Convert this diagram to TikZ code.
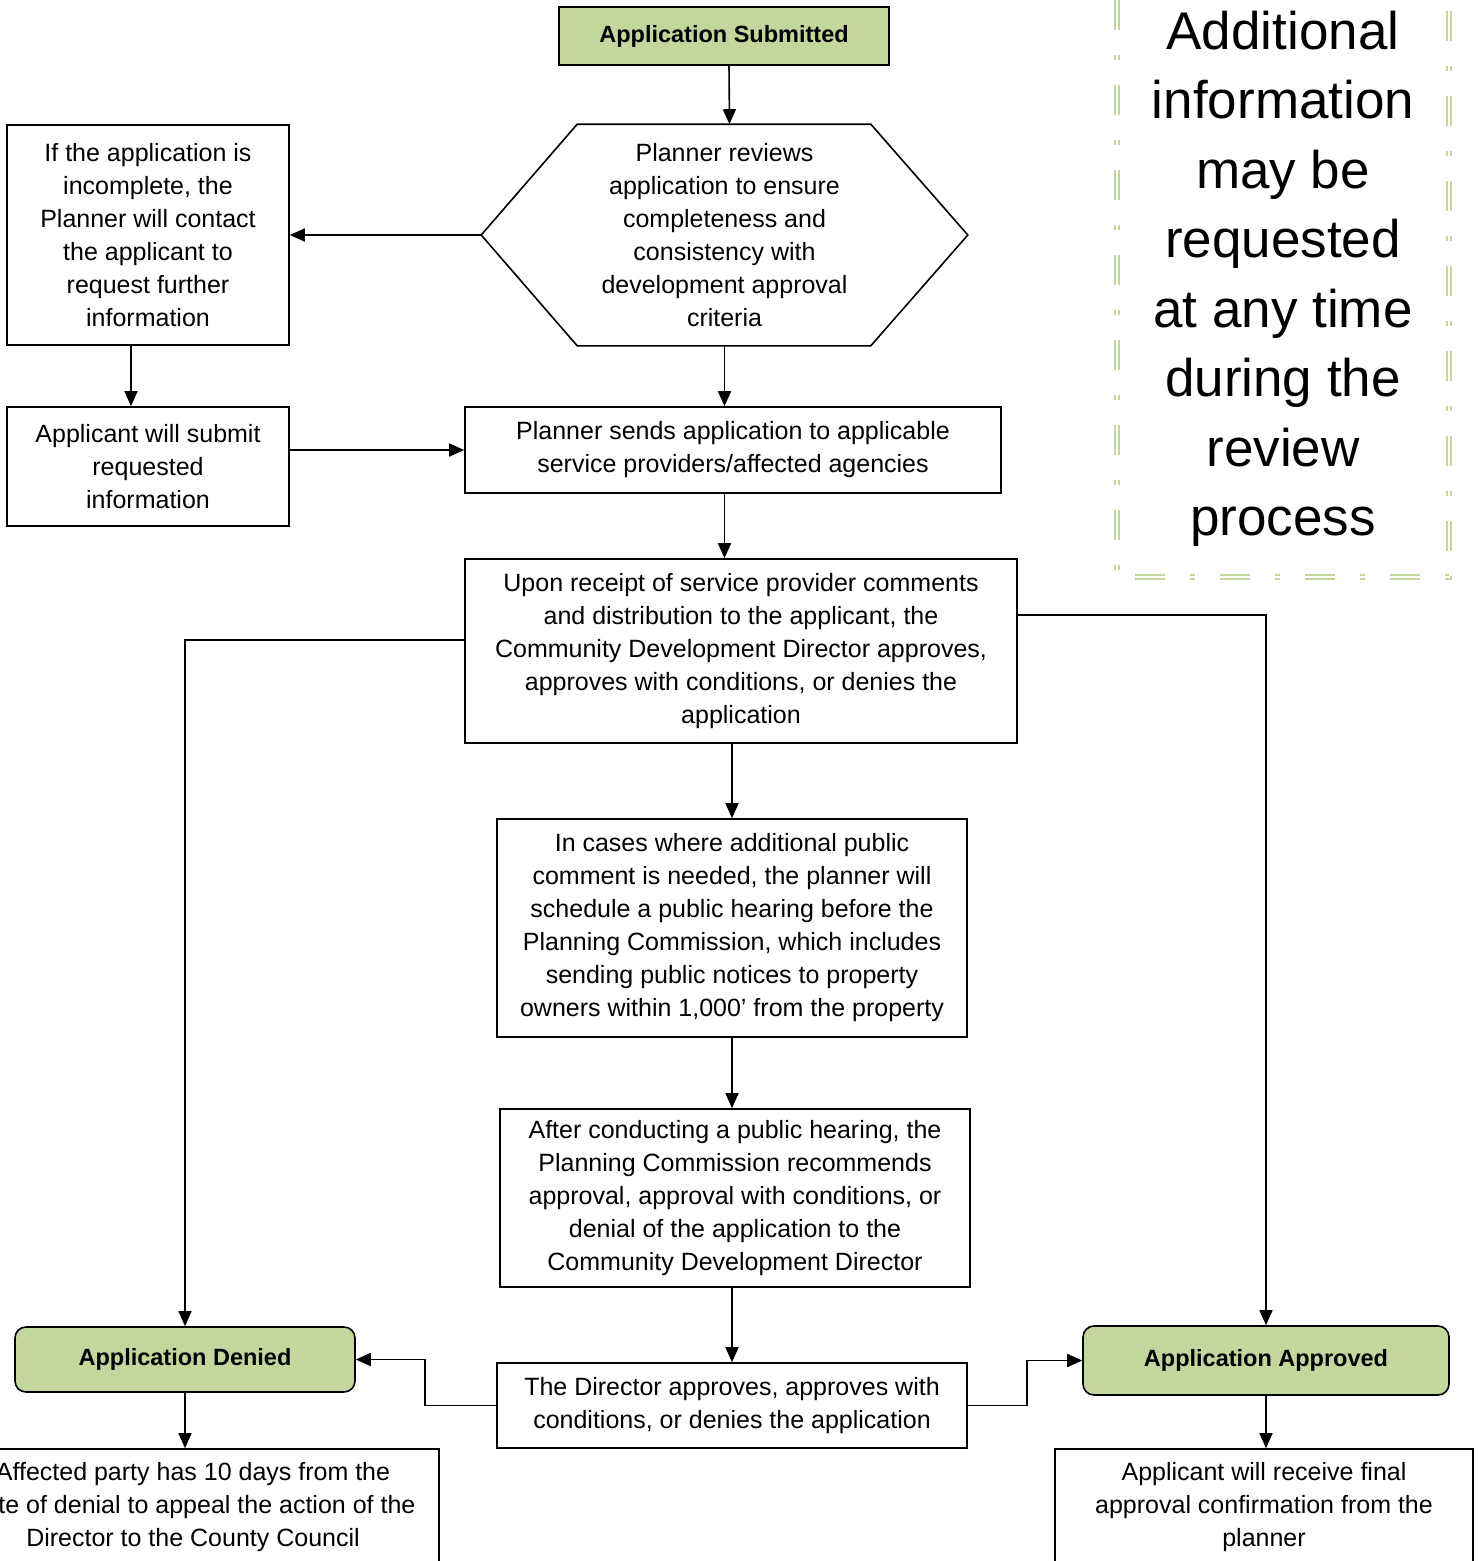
\documentclass[tikz,border=0pt]{standalone}
\usepackage{fontspec}
\setmainfont{Liberation Sans}
\usetikzlibrary{arrows.meta, positioning, calc}
\definecolor{appgreen}{HTML}{C3D69B}
\tikzstyle{process} = [draw, rectangle, line width=1.6pt, align=center, inner sep=0pt,
  font=\fontsize{25}{33}\selectfont]
\tikzstyle{outcome} = [process, fill=appgreen, font=\bfseries\fontsize{23.5}{28}\selectfont]
\tikzstyle{line} = [draw, line width=1.6pt, ->]

\begin{document}
\begin{tikzpicture}[x=1pt, y=-1pt,
          > = {Triangle[length=15pt, width=13pt]} % arrow head style
      ]
  \useasboundingbox (0,0) rectangle (1478,1561);

  % Draw the vertices.
  \node[outcome, minimum width=330pt, minimum height=58pt] (submitted) at (724,36) {Application Submitted};

  \node[process, draw=none, minimum width=485pt, minimum height=220pt] (review) at (724.5,235)
    {Planner reviews\\application to ensure\\completeness and\\consistency with\\development approval\\criteria};
  \draw[line width=1.6pt] (review.west) -- ($(review.north west)+(96,0)$) -- ($(review.north east)+(-97,0)$)
    -- (review.east) -- ($(review.south east)+(-97,0)$) -- ($(review.south west)+(96,0)$) -- cycle;

  \node[process, minimum width=282pt, minimum height=220pt] (incomplete) at (148,235)
    {If the application is\\incomplete, the\\Planner will contact\\the applicant to\\request further\\information};
  \node[process, minimum width=282pt, minimum height=119pt] (submit) at (148,466.5)
    {Applicant will submit\\requested\\information};
  \node[process, minimum width=536pt, minimum height=86pt] (sends) at (733,450)
    {Planner sends application to applicable\\service providers/affected agencies};
  \node[process, minimum width=552pt, minimum height=184pt] (upon) at (741,651)
    {Upon receipt of service provider comments\\and distribution to the applicant, the\\Community Development Director approves,\\approves with conditions, or denies the\\application};
  \node[process, minimum width=470pt, minimum height=218pt] (cases) at (732,928)
    {In cases where additional public\\comment is needed, the planner will\\schedule a public hearing before the\\Planning Commission, which includes\\sending public notices to property\\owners within 1,000’ from the property};
  \node[process, minimum width=470pt, minimum height=178pt] (after) at (735,1198)
    {After conducting a public hearing, the\\Planning Commission recommends\\approval, approval with conditions, or\\denial of the application to the\\Community Development Director};
  \node[process, minimum width=470pt, minimum height=85pt] (director) at (732,1405.5)
    {The Director approves, approves with\\conditions, or denies the application};

  \node[outcome, rounded corners=11pt, minimum width=340pt, minimum height=65pt] (denied) at (185,1359.5) {Application Denied};
  \node[outcome, rounded corners=11pt, minimum width=366pt, minimum height=69pt] (approved) at (1266,1360.5) {Application Approved};

  \node[process, minimum width=492pt, minimum height=116pt] (appeal) at (193,1507)
    {Affected party has 10 days from the\\date of denial to appeal the action of the\\Director to the County Council};
  \node[process, minimum width=418pt, minimum height=116pt] (final) at (1264,1507)
    {Applicant will receive final\\approval confirmation from the\\planner};

  % side note
  \node[align=center, font=\fontsize{53}{69.5}\selectfont] (note) at (1283,279)
    {Additional\\information\\may be\\requested\\at any time\\during the\\review\\process};
  \draw[appgreen, line width=1.8pt, double=white, double distance=2.2pt,
        dash pattern=on 30pt off 25pt on 5pt off 25pt]
    (1117,0) -- (1117,577) -- (1449,577) -- (1449,0);

  % Connect vertices with edges
  \draw[line] ([xshift=5pt]submitted.south) -- ([xshift=5pt]review.north);
  \draw[line] (review.west) -- (incomplete.east);
  \draw[line] ([xshift=-17pt]incomplete.south) -- ([xshift=-17pt]submit.north);
  \draw[line] (review.south) -- (review.south |- sends.north);
  \draw[line] (sends.west -| submit.east) -- (sends.west);
  \draw[line] (review.south |- sends.south) -- (review.south |- upon.north);
  \draw[line] ([yshift=11pt]upon.west) -| (denied.north);
  \draw[line] ([yshift=36pt]upon.east) -| (approved.north);
  \draw[line] (upon.south -| cases.north) -- (cases.north);
  \draw[line] (cases.south) -- (cases.south |- after.north);
  \draw[line] (after.south -| director.north) -- (director.north);
  \draw[line] (director.west) -- ++(-71,0) |- (denied.east);
  \draw[line] (director.east) -- ++(59,0) |- (approved.west);
  \draw[line] (denied.south) -- (denied.south |- appeal.north);
  \draw[line] (approved.south) -- (approved.south |- final.north);
\end{tikzpicture}
\end{document}
